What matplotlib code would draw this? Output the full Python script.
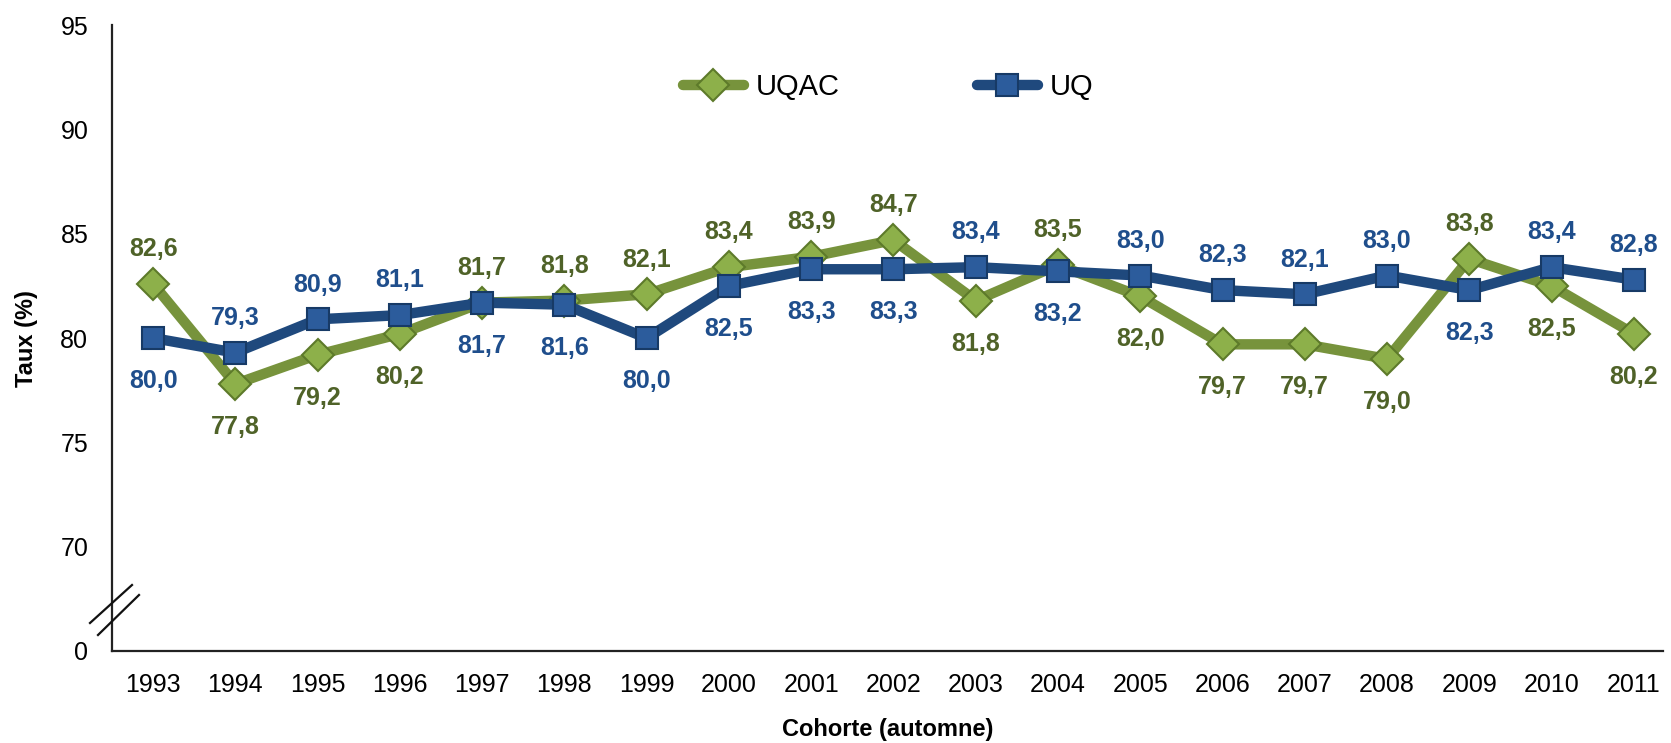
#!/usr/bin/env python3
"""Taux par cohorte : UQAC vs UQ, axe y coupé entre 0 et 70."""

import matplotlib

matplotlib.use("Agg")
import matplotlib.pyplot as plt
from matplotlib.lines import Line2D

plt.rcParams["font.family"] = ["Liberation Sans Narrow", "Liberation Sans", "DejaVu Sans"]

YEARS = list(range(1993, 2012))
UQAC = [82.6, 77.8, 79.2, 80.2, 81.7, 81.8, 82.1, 83.4, 83.9, 84.7,
        81.8, 83.5, 82.0, 79.7, 79.7, 79.0, 83.8, 82.5, 80.2]
UQ = [80.0, 79.3, 80.9, 81.1, 81.7, 81.6, 80.0, 82.5, 83.3, 83.3,
      83.4, 83.2, 83.0, 82.3, 82.1, 83.0, 82.3, 83.4, 82.8]
# 1 = label above the point, -1 = below
UQAC_POS = [1, -1, -1, -1, 1, 1, 1, 1, 1, 1, -1, 1, -1, -1, -1, -1, 1, -1, -1]
UQ_POS = [-1, 1, 1, 1, -1, -1, -1, -1, -1, -1, 1, -1, 1, 1, 1, 1, -1, 1, 1]

Y_TICKS = [65, 70, 75, 80, 85, 90, 95]
Y_LABELS = ["0", "70", "75", "80", "85", "90", "95"]

GREEN = "#77933c"
GREEN_TXT = "#4f6228"
BLUE = "#1f497d"
BLUE_TXT = "#1f4e8c"


def fmt(v: float) -> str:
    return f"{v:.1f}".replace(".", ",")


def main() -> None:
    fig = plt.figure(figsize=(16.71, 7.43), dpi=100)
    ax = fig.add_axes([0.067, 0.124, 0.928, 0.842])

    ax.plot(YEARS, UQAC, color=GREEN, lw=7.5, marker="D", ms=16,
            mfc="#8db04a", mec="#5d7a2a", mew=1.5, label="UQAC", zorder=3,
            solid_capstyle="round")
    ax.plot(YEARS, UQ, color=BLUE, lw=7.5, marker="s", ms=16,
            mfc="#2c5c9c", mec="#173a66", mew=1.5, label="UQ", zorder=4,
            solid_capstyle="round")

    for x, v, p in zip(YEARS, UQAC, UQAC_POS):
        ax.annotate(fmt(v), (x, v), xytext=(0, 25 if p > 0 else -31),
                    textcoords="offset points", ha="center", va="center",
                    fontsize=18, fontweight="bold", color=GREEN_TXT, zorder=5)
    for x, v, p in zip(YEARS, UQ, UQ_POS):
        ax.annotate(fmt(v), (x, v), xytext=(0, 25 if p > 0 else -31),
                    textcoords="offset points", ha="center", va="center",
                    fontsize=18, fontweight="bold", color=BLUE_TXT, zorder=5)

    ax.set_xlim(1992.5, 2011.35)
    ax.set_ylim(65, 95)
    ax.set_xticks(YEARS)
    ax.set_xticklabels([str(y) for y in YEARS], fontsize=18)
    ax.set_yticks(Y_TICKS)
    ax.set_yticklabels(Y_LABELS, fontsize=18)
    ax.tick_params(length=0)
    ax.tick_params(axis="x", pad=16)
    ax.tick_params(axis="y", pad=17)
    ax.spines[["top", "right"]].set_visible(False)
    for s in ("left", "bottom"):
        ax.spines[s].set_linewidth(1.6)
        ax.spines[s].set_color("#222222")

    ax.set_xlabel("Cohorte (automne)", fontsize=17, fontweight="bold", labelpad=15)
    ax.set_ylabel("Taux (%)", fontsize=17, fontweight="bold", labelpad=16)

    # break marks on the y axis (figure pixels)
    W, H = 1671, 743
    for (x0, y0, x1, y1) in [(90, 623, 132, 585), (98, 635, 139, 595)]:
        fig.add_artist(Line2D([x0 / W, x1 / W], [1 - y0 / H, 1 - y1 / H],
                              transform=fig.transFigure, color="#111111", lw=1.6))

    ax.legend(loc="center left", bbox_to_anchor=(0.368, 0.901), ncol=2,
              frameon=False, fontsize=21, columnspacing=4.7, handlelength=2.1,
              handletextpad=0.4, borderpad=0, borderaxespad=0)

    fig.savefig("out.png", dpi=100)
    plt.close(fig)


if __name__ == "__main__":
    main()
